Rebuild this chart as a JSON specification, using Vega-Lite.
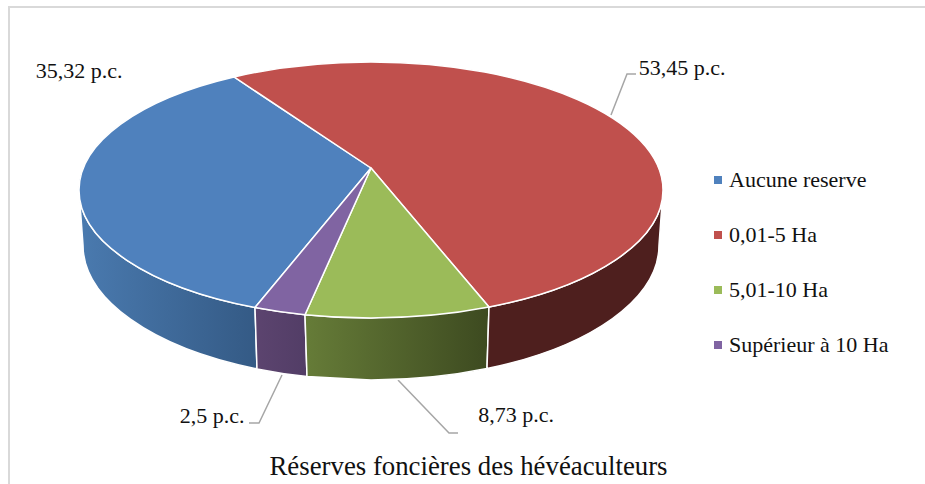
{
"$schema":"https://vega.github.io/schema/vega-lite/v6.json",
"width":925,"height":484,"padding":0,"autosize":{"type":"none"},"background":"white",
"title":{"text":"Réserves foncières des hévéaculteurs","orient":"bottom","offset":-37,"anchor":"middle","dx":6,"font":"Liberation Serif","fontSize":26.8,"fontWeight":"normal","color":"#111111"},
"config":{"view":{"stroke":null},"point":{"opacity":1,"size":4}},
"data":{"values":[
{"slice":"Aucune reserve","value":35.32,"label":"35,32 p.c."},
{"slice":"0,01-5 Ha","value":53.45,"label":"53,45 p.c."},
{"slice":"5,01-10 Ha","value":8.73,"label":"8,73 p.c."},
{"slice":"Supérieur à 10 Ha","value":2.5,"label":"2,5 p.c."}
]},
"resolve":{"scale":{"shape":"independent"}},
"layer":[
{"transform":[{"filter":"datum.value==2.5"}],"mark":{"type":"point","filled":false,"fill":"transparent","stroke":"#d9d9d9","strokeWidth":2,"size":4,"opacity":1,"shape":"M-453.5 245L-453.5 -235L465 -235"}},
{"transform":[{"filter":"datum.value!=35.32"}],"mark":{"type":"point","filled":false,"fill":"transparent","stroke":"#a6a6a6","strokeWidth":1.5,"size":4,"opacity":1},
 "encoding":{"shape":{"field":"slice","type":"nominal","legend":null,"scale":{"domain":["0,01-5 Ha","5,01-10 Ha","Supérieur à 10 Ha"],"range":["M148.5 -127L164.5 -168L173.5 -168","M-64.5 138L-13.5 191L-4.5 191","M-180.5 133L-203.5 181L-213.5 181"]}}}},
{"transform":[{"filter":"datum.value==35.32"}],"mark":{"type":"point","filled":true,"size":4,"opacity":1,"stroke":"white","strokeWidth":1.5,"fill":{"gradient":"linear","x1":0,"y1":0,"x2":1,"y2":0,"stops":[{"offset":0,"color":"#4a7aaf"},{"offset":1,"color":"#345a85"}]},"shape":"M-383.5 -52A292 128 0 0 0 -207.5 65.47L-205.5 126.97A288 135 0 0 1 -379.5 3Z"}},
{"transform":[{"filter":"datum.value==2.5"}],"mark":{"type":"point","filled":true,"size":4,"opacity":1,"stroke":"white","strokeWidth":1.5,"fill":{"gradient":"linear","x1":0,"y1":0,"x2":1,"y2":0,"stops":[{"offset":0,"color":"#5c446f"},{"offset":1,"color":"#523d66"}]},"shape":"M-207.5 65.47A292 128 0 0 0 -157.5 72.7L-155.5 134.6A288 135 0 0 1 -205.5 126.97Z"}},
{"transform":[{"filter":"datum.value==8.73"}],"mark":{"type":"point","filled":true,"size":4,"opacity":1,"stroke":"white","strokeWidth":1.5,"fill":{"gradient":"linear","x1":0,"y1":0,"x2":1,"y2":0,"stops":[{"offset":0,"color":"#667c38"},{"offset":1,"color":"#3d4a20"}]},"shape":"M-157.5 72.7A292 128 0 0 0 -91.5 76L26.5 65.08L24.5 126.56A288 135 0 0 1 -91.5 138L-155.5 134.6Z"}},
{"transform":[{"filter":"datum.value==53.45"}],"mark":{"type":"point","filled":true,"size":4,"opacity":1,"stroke":"white","strokeWidth":1.5,"fill":"#4e1f1e","shape":"M26.5 65.08A292 128 0 0 0 200.5 -52L196.5 3A288 135 0 0 1 24.5 126.56Z"}},
{"mark":{"type":"point","filled":true,"size":4,"opacity":1,"stroke":"white","strokeWidth":1.5},
 "encoding":{
  "color":{"field":"slice","type":"nominal","title":null,"scale":{"domain":["Aucune reserve","0,01-5 Ha","5,01-10 Ha","Supérieur à 10 Ha"],"range":["#4f81bd","#c0504d","#9bbb59","#8064a2"]},
   "legend":{"orient":"none","legendX":707,"legendY":169,"symbolType":"square","symbolSize":64,"symbolStrokeWidth":0,"labelFont":"Liberation Serif","labelFontSize":22,"labelColor":"#111111","labelOffset":0,"rowPadding":33,"padding":0,"labelLimit":220}},
  "shape":{"field":"slice","type":"nominal","legend":null,"scale":{"domain":["Aucune reserve","0,01-5 Ha","5,01-10 Ha","Supérieur à 10 Ha"],"range":[
   "M-91.5 -74L-228.5 -165.04A292 128 0 0 0 -383.5 -52A292 128 0 0 0 -207.5 65.47Z",
   "M-91.5 -74L-228.5 -165.04A292 128 0 0 1 -91.5 -180A292 128 0 0 1 200.5 -52A292 128 0 0 1 26.5 65.08Z",
   "M-91.5 -74L26.5 65.08A292 128 0 0 1 -91.5 76A292 128 0 0 1 -157.5 72.7Z",
   "M-91.5 -74L-157.5 72.7A292 128 0 0 1 -207.5 65.47Z"]}}
 }},
{"mark":{"type":"text","font":"Liberation Serif","fontSize":22,"color":"#111111","align":"center","baseline":"alphabetic"},
 "encoding":{
  "text":{"field":"label"},
  "x":{"field":"value","type":"quantitative","axis":null,"scale":{"domain":[2.5,8.73,35.32,53.45],"range":[212,516,79,682]}},
  "y":{"field":"value","type":"quantitative","axis":null,"scale":{"domain":[2.5,8.73,35.32,53.45],"range":[423,422,78,75]}}
 }}
]
}
